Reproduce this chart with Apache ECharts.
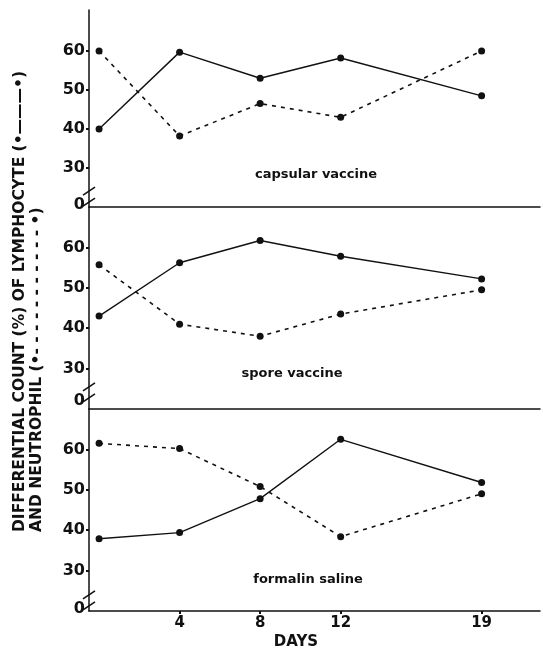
<!DOCTYPE html>
<html>
<head>
<meta charset="utf-8">
<script src="https://cdn.jsdelivr.net/npm/echarts@6/dist/echarts.min.js"></script>
<style>
html, body { margin: 0; padding: 0; background: #fff; }
#chart { width: 543px; height: 648px; }
</style>
</head>
<body>
<div id="chart"></div>
<script>
// data
const days = [0, 4, 8, 12, 19]
const dayTicks = [4, 8, 12, 19]
const yTicks = [30, 40, 50, 60]
const panelNames = ['capsular vaccine', 'spore vaccine', 'formalin saline']
const zeroAt = [20.5, 22, 20.5]   // where the broken axis puts its "0"
const lymphocyte = [
  [40, 59.7, 53, 58.2, 48.5],
  [43, 56.2, 61.7, 57.8, 52.2],
  [37.9, 39.4, 47.8, 62.5, 51.8]
]
const neutrophil = [
  [60, 38.2, 46.5, 43, 60],
  [55.7, 41, 38, 43.5, 49.5],
  [61.5, 60.2, 50.8, 38.4, 49]
]

const FONT = 'DejaVu Sans'
const ink = '#111'

const chart = echarts.init(document.getElementById('chart'))

const grids = [
  { left: 89, right: 3, top: 10, height: 197 },
  { left: 89, right: 3, top: 207, height: 202 },
  { left: 89, right: 3, top: 409, height: 202 }
]
const panelLabelPos = [[316, 175], [292, 374], [308, 580]]

const xAxes = grids.map((g, i) => ({
  type: 'value',
  gridIndex: i,
  min: -0.5,
  max: 21.9,
  axisLine: { onZero: false, lineStyle: { color: ink, width: 1.5 } },
  axisTick: { show: i === 2, customValues: dayTicks, length: 3, lineStyle: { color: ink, width: 2 } },
  axisLabel: {
    show: i === 2,
    customValues: dayTicks,
    color: ink,
    fontFamily: FONT,
    fontWeight: 'bold',
    fontSize: 15,
    margin: 5
  },
  splitLine: { show: false }
}))

const yAxes = grids.map((g, i) => ({
  type: 'value',
  gridIndex: i,
  min: 20,
  max: i === 0 ? 70.5 : 70,
  axisLine: { show: true, onZero: false, lineStyle: { color: ink, width: 1.5 } },
  axisTick: { show: true, customValues: yTicks, length: 3, lineStyle: { color: ink, width: 2 } },
  axisLabel: {
    customValues: [zeroAt[i]].concat(yTicks),
    formatter: v => (v === zeroAt[i] ? '0' : String(v)),
    color: ink,
    fontFamily: FONT,
    fontWeight: 'bold',
    fontSize: 16,
    margin: 4
  },
  splitLine: { show: false }
}))

const series = []
grids.forEach((g, i) => {
  series.push({
    name: 'lymphocyte ' + i,
    type: 'line',
    xAxisIndex: i,
    yAxisIndex: i,
    data: days.map((d, k) => [d, lymphocyte[i][k]]),
    symbol: 'circle',
    symbolSize: 7,
    itemStyle: { color: ink },
    lineStyle: { color: ink, width: 1.4 },
    silent: true
  })
  series.push({
    name: 'neutrophil ' + i,
    type: 'line',
    xAxisIndex: i,
    yAxisIndex: i,
    data: days.map((d, k) => [d, neutrophil[i][k]]),
    symbol: 'circle',
    symbolSize: 7,
    itemStyle: { color: ink },
    lineStyle: { color: ink, width: 1.6, type: [4, 5] },
    silent: true
  })
})

const texts = []
panelNames.forEach((name, i) => {
  texts.push({
    type: 'text',
    x: panelLabelPos[i][0],
    y: panelLabelPos[i][1],
    style: {
      text: name,
      fill: ink,
      font: 'bold 13px "' + FONT + '"',
      textAlign: 'center',
      textVerticalAlign: 'middle'
    }
  })
})
// rotated y axis title, two lines
texts.push({
  type: 'text',
  x: 20,
  y: 532,
  rotation: Math.PI / 2,
  style: {
    text: 'DIFFERENTIAL COUNT (%) OF LYMPHOCYTE (•———•)',
    fill: ink,
    font: 'bold 15.5px "' + FONT + '"',
    textAlign: 'left',
    textVerticalAlign: 'middle'
  }
})
texts.push({
  type: 'text',
  x: 37,
  y: 532,
  rotation: Math.PI / 2,
  style: {
    text: 'AND NEUTROPHIL (•- - - - - - - - - - - •)',
    fill: ink,
    font: 'bold 15.5px "' + FONT + '"',
    textAlign: 'left',
    textVerticalAlign: 'middle'
  }
})
texts.push({
  type: 'text',
  x: 296,
  y: 642,
  style: {
    text: 'DAYS',
    fill: ink,
    font: 'bold 15px "' + FONT + '"',
    textAlign: 'center',
    textVerticalAlign: 'middle'
  }
})

chart.setOption({
  backgroundColor: '#fff',
  animation: false,
  grid: grids,
  xAxis: xAxes,
  yAxis: yAxes,
  series: series,
  graphic: texts
})

// axis break marks "//" just above the zero label
const breaks = []
grids.forEach((g, i) => {
  const x0 = chart.convertToPixel({ xAxisIndex: i }, -0.5)
  const yz = chart.convertToPixel({ yAxisIndex: i }, zeroAt[i])
  ;[-14, -3].forEach(off => {
    breaks.push({
      type: 'line',
      shape: { x1: x0 - 6, y1: yz + off + 4, x2: x0 + 6, y2: yz + off - 4 },
      style: { stroke: ink, lineWidth: 1.5 }
    })
  })
})
chart.setOption({ graphic: texts.concat(breaks) })
</script>
</body>
</html>
